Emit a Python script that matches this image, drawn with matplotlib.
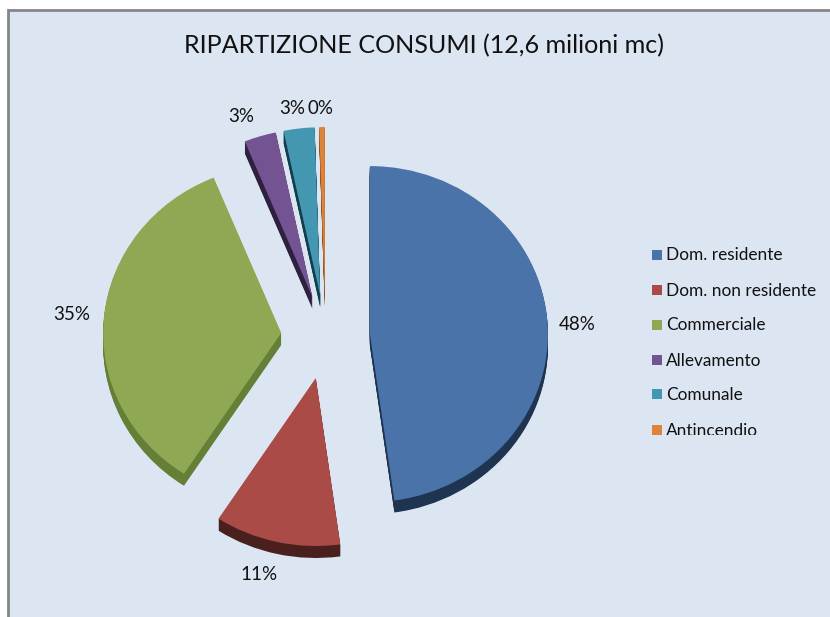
import matplotlib
matplotlib.use("Agg")
import matplotlib.pyplot as plt
from matplotlib.patches import Rectangle

categories = ["Dom. residente", "Dom. non residente", "Commerciale",
              "Allevamento", "Comunale", "Antincendio"]
values = [47.8, 11.4, 34.6, 2.9, 2.8, 0.5]
top_colors = ["#4A74A9", "#AA4B48", "#8FA853", "#735392", "#4397B0", "#DE833A"]
side_colors = ["#1F3450", "#4A201E", "#657F36", "#2E2140", "#123F4D", "#8A4F20"]
title = "RIPARTIZIONE CONSUMI (12,6 milioni mc)"
FONT = "Lato"
W, H = 830, 617

fig = plt.figure(figsize=(W / 100, H / 100), dpi=100, facecolor="white")


def px_axes(x0, y0, x1, y1, z):
    a = fig.add_axes([x0 / W, 1 - y1 / H, (x1 - x0) / W, (y1 - y0) / H])
    a.set_zorder(z)
    return a


# chart area background and its grey frame
bg = px_axes(0, 0, W, H, 0)
bg.set_xlim(0, W)
bg.set_ylim(H, 0)
bg.axis("off")
bg.add_patch(Rectangle((8, 10), W, H, facecolor="#DCE6F2", edgecolor="#858585", linewidth=2))

# pie: radius 178 x 168 px around (325.5, 337)
RX, RY = 178, 168
CX, CY = 325.5, 337
ax = px_axes(CX - 2 * RX, CY - 2 * RY, CX + 2 * RX, CY + 2 * RY, 1)
explode = [0.25] * len(values)
depth_px = 12
for d in range(depth_px, 0, -1):
    ax.pie(values, colors=side_colors, explode=explode, startangle=90, counterclock=False,
           center=(0, -d / RY), radius=1, frame=False,
           wedgeprops={"linewidth": 0})
ax.pie(values, colors=top_colors, explode=explode, startangle=90, counterclock=False,
       center=(0, 0), radius=1, frame=False, wedgeprops={"linewidth": 0})
ax.set_xlim(-2, 2)
ax.set_ylim(-2, 2)
ax.set_aspect("auto")
ax.axis("off")

# title and percentage labels
tx = px_axes(0, 0, W, H, 2)
tx.set_xlim(0, W)
tx.set_ylim(H, 0)
tx.axis("off")
tx.text(423.5, 46, title, ha="center", va="center", fontsize=18.1, family=FONT, color="#111111")
label_xy = [(577, 324), (259, 575), (72, 314), (241, 117), (292, 109), (320, 109)]
for v, (x, y) in zip(values, label_xy):
    tx.text(x, y, f"{v:.0f}%", ha="center", va="center", fontsize=13.5, family=FONT,
            color="#111111")

# legend, clipped at its lower edge as in the reference
lg = px_axes(630, 240, W, 435, 3)
lg.set_xlim(630, W)
lg.set_ylim(435, 240)
lg.axis("off")
rows = [255, 290, 325, 360, 394, 430]
for name, col, y in zip(categories, top_colors, rows):
    lg.plot([657], [y], marker="s", ms=7.6, color=col, mew=0, ls="none")
    lg.text(666, y + 0.5, name, ha="left", va="center", fontsize=12.4, family=FONT,
            color="#111111", clip_on=True)

fig.savefig("out.png", dpi=100, facecolor="white")
